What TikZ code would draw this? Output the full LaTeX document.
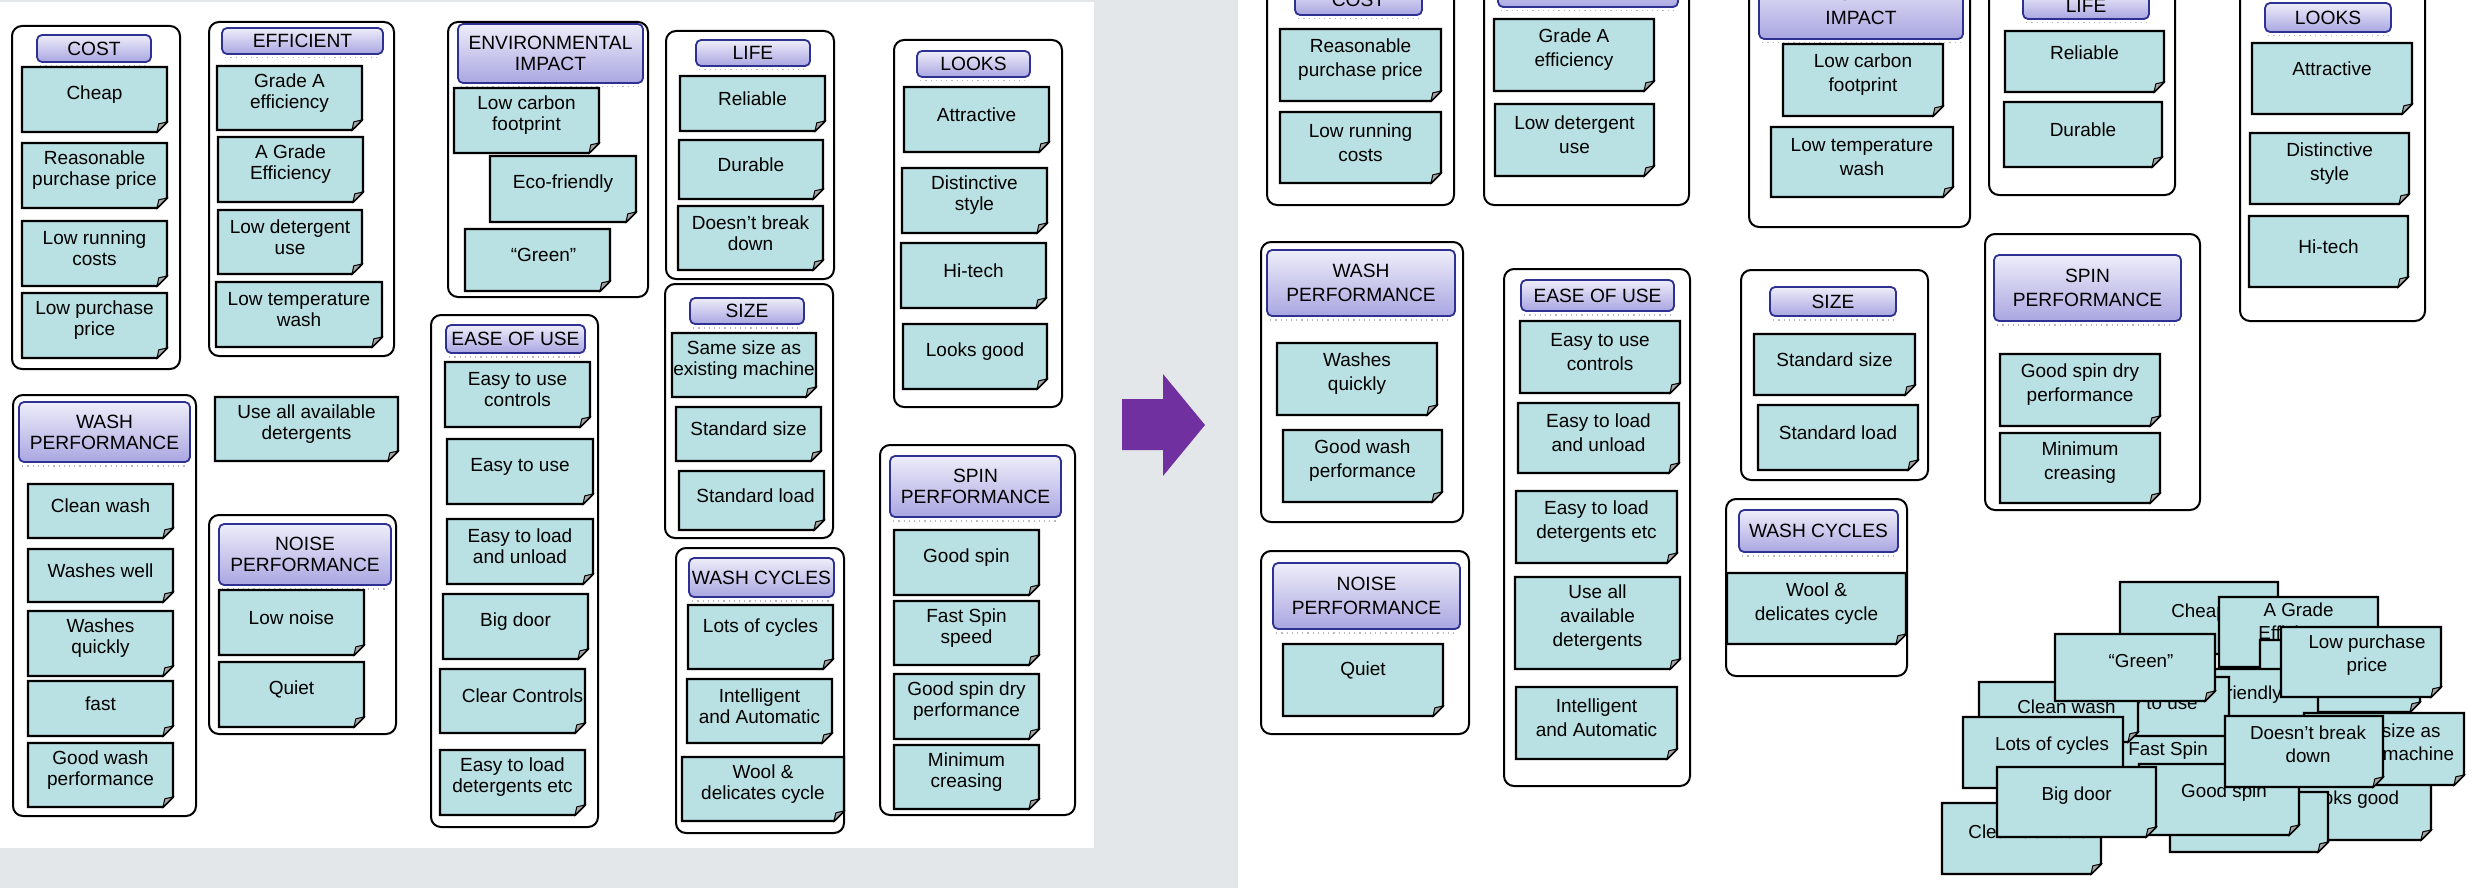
\documentclass[tikz,border=0pt]{standalone}
\usepackage{fontspec}
\setmainfont{Liberation Sans}
\usetikzlibrary{calc}

\definecolor{pagegray}{HTML}{E3E7EA}
\definecolor{notefill}{HTML}{B9E0E2}
\definecolor{foldgray}{HTML}{A6A6A6}
\definecolor{hdrtop}{HTML}{EEEDF9}
\definecolor{hdrbot}{HTML}{A9A6E1}
\definecolor{hdrline}{HTML}{2E3192}
\definecolor{arrowpurple}{HTML}{7030A0}

\tikzset{
  notebox/.style={rectangle, draw=none, inner sep=0pt, outer sep=0pt},
  noteline/.style={draw=black, line width=1.1pt, fill=notefill, line join=miter},
  dogear/.style={draw=black, line width=0.5pt, fill=foldgray},
  notetext/.style={align=center, inner sep=0pt, outer sep=0pt, text=black, font=\notefont, yshift=\notelift},
  groupbox/.style={rectangle, draw=black, line width=1pt, fill=white, rounded corners=5pt, inner sep=0pt},
  hdrbox/.style={rectangle, draw=hdrline, line width=0.9pt, rounded corners=2.5pt,
    top color=hdrtop, bottom color=hdrbot, inner sep=0pt, align=center, font=\hdrfont, text=black},
  hdrdots/.style={draw=gray!55, line width=0.6pt, dotted},
}

% sticky note: [text options]{name}{x1}{y1}{x2}{y2}{text}
\newcommand\stickynote[7][]{%
  \pgfmathsetmacro\nw{(#5-#3)/2}%
  \pgfmathsetmacro\nh{(#6-#4)/2}%
  \node[notebox, minimum width=\nw pt, minimum height=\nh pt] (#2) at ({(#3+#5)/2},{(#4+#6)/2}) {};
  \draw[noteline] (#2.north west) -- (#2.north east) -- ([yshift=5pt]#2.south east)
    -- ([xshift=-5pt]#2.south east) -- (#2.south west) -- cycle;
  \filldraw[dogear] ([yshift=5pt]#2.south east) -- ([xshift=-5pt]#2.south east)
    -- ([xshift=-4.1pt,yshift=4.1pt]#2.south east) -- cycle;
  \node[notetext,#1] (#2-t) at (#2.center) {#7};
}
% rounded frame of a category: {name}{x1}{y1}{x2}{y2}
\newcommand\groupframe[5]{%
  \pgfmathsetmacro\nw{(#4-#2)/2}%
  \pgfmathsetmacro\nh{(#5-#3)/2}%
  \node[groupbox, minimum width=\nw pt, minimum height=\nh pt] (#1) at ({(#2+#4)/2},{(#3+#5)/2}) {};
}
% category title: {name}{x1}{y1}{x2}{y2}{text}
\newcommand\cattitle[6]{%
  \pgfmathsetmacro\nw{(#4-#2)/2}%
  \pgfmathsetmacro\nh{(#5-#3)/2}%
  \node[hdrbox, minimum width=\nw pt, minimum height=\nh pt] (#1) at ({(#2+#4)/2},{(#3+#5)/2}) {#6};
  \draw[hdrdots] ([xshift=2pt,yshift=-1.5pt]#1.south west) -- ([xshift=-2pt,yshift=-1.5pt]#1.south east);
}

\begin{document}
\begin{tikzpicture}[x=0.5pt, y=-0.5pt]
\useasboundingbox (0,0) rectangle (2476,888);
\fill[pagegray] (0,0) rectangle (2476,888);
\fill[white] (0,2) rectangle (1094,848);
\fill[white] (1238,0) rectangle (2476,888);

% arrow between the two boards
\fill[arrowpurple] (1122,399) -- (1163,399) -- (1163,374) -- (1205,425)
  -- (1163,476) -- (1163,450) -- (1122,450) -- cycle;

% ---------------- first board ----------------
\def\notefont{\fontsize{9.5}{10.5}\selectfont}
\def\hdrfont{\fontsize{9.6}{10.5}\selectfont}
\def\notelift{2.5pt}

\groupframe{g-cost}{12}{26}{180}{369}
\groupframe{g-eff}{209}{22}{394}{356}
\groupframe{g-env}{448}{22}{648}{297}
\groupframe{g-ease}{431}{315}{598}{827}
\groupframe{g-life}{666}{31}{834}{279}
\groupframe{g-size}{665}{284}{833}{538}
\groupframe{g-cyc}{676}{548}{844}{833}
\groupframe{g-looks}{894}{40}{1062}{407}
\groupframe{g-spin}{880}{445}{1075}{815}
\groupframe{g-wash}{13}{395}{196}{816}
\groupframe{g-noise}{209}{515}{396}{734}

\cattitle{h-cost}{37}{35}{151}{62}{COST}
\cattitle{h-eff}{222}{28}{383}{54}{EFFICIENT}
\cattitle{h-env}{458}{24}{643}{83}{ENVIRONMENTAL\\IMPACT}
\cattitle{h-ease}{446}{325}{585}{353}{EASE OF USE}
\cattitle{h-life}{696}{40}{810}{66}{LIFE}
\cattitle{h-size}{690}{298}{804}{324}{SIZE}
\cattitle{h-cyc}{689}{558}{834}{597}{WASH CYCLES}
\cattitle{h-looks}{917}{51}{1030}{77}{LOOKS}
\cattitle{h-spin}{890}{456}{1061}{517}{SPIN\\PERFORMANCE}
\cattitle{h-wash}{19}{402}{190}{462}{WASH\\PERFORMANCE}
\cattitle{h-noise}{219}{524}{391}{585}{NOISE\\PERFORMANCE}

\stickynote{cheap}{22}{67}{167}{132}{Cheap}
\stickynote{reas}{22}{143}{167}{208}{Reasonable\\purchase price}
\stickynote{lowrun}{22}{221}{167}{286}{Low running\\costs}
\stickynote{lowpur}{22}{293}{167}{358}{Low purchase\\price}
\stickynote{gradea}{217}{66}{362}{130}{Grade A\\efficiency}
\stickynote{agrade}{218}{137}{363}{202}{A Grade\\Efficiency}
\stickynote{lowdet}{218}{210}{362}{274}{Low detergent\\use}
\stickynote{lowtemp}{216}{282}{382}{347}{Low temperature\\wash}
\stickynote{lowcarb}{454}{88}{599}{153}{Low carbon\\footprint}
\stickynote{eco}{490}{156}{636}{222}{Eco-friendly}
\stickynote[xshift=3pt]{green}{465}{229}{610}{291}{“Green”}
\stickynote{eou1}{445}{362}{590}{427}{Easy to use\\controls}
\stickynote{eou2}{447}{439}{593}{504}{Easy to use}
\stickynote{eou3}{447}{519}{593}{584}{Easy to load\\and unload}
\stickynote{bigdoor}{443}{594}{588}{659}{Big door}
\stickynote[xshift=5pt]{clear}{440}{669}{585}{733}{Clear Controls}
\stickynote{eou4}{440}{750}{585}{815}{Easy to load\\detergents etc}
\stickynote{reliable}{680}{76}{825}{131}{Reliable}
\stickynote{durable}{679}{140}{823}{199}{Durable}
\stickynote{dbd}{678}{206}{823}{270}{Doesn’t break\\down}
\stickynote{samesize}{672}{333}{816}{397}{Same size as\\existing machine}
\stickynote{stdsize}{676}{407}{821}{461}{Standard size}
\stickynote[xshift=2pt]{stdload}{679}{471}{824}{530}{Standard load}
\stickynote[yshift=2pt]{lots}{688}{605}{833}{669}{Lots of cycles}
\stickynote{intel}{687}{679}{832}{743}{Intelligent\\and Automatic}
\stickynote{wool}{682}{757}{844}{821}{Wool \&\\delicates cycle}
\stickynote{attr}{904}{87}{1049}{152}{Attractive}
\stickynote{dist}{902}{168}{1047}{233}{Distinctive\\style}
\stickynote{hitech}{901}{243}{1046}{308}{Hi-tech}
\stickynote{looksgood}{903}{324}{1047}{389}{Looks good}
\stickynote{goodspin}{894}{530}{1039}{595}{Good spin}
\stickynote{fastspin}{894}{601}{1039}{665}{Fast Spin\\speed}
\stickynote{gsdry}{894}{674}{1039}{739}{Good spin dry\\performance}
\stickynote{mincrease}{894}{745}{1039}{809}{Minimum\\creasing}
\stickynote{cleanwash}{28}{484}{173}{538}{Clean wash}
\stickynote{washwell}{28}{549}{173}{602}{Washes well}
\stickynote{washquick}{28}{611}{173}{676}{Washes\\quickly}
\stickynote{fast}{28}{681}{173}{736}{fast}
\stickynote{goodwash}{28}{743}{173}{807}{Good wash\\performance}
\stickynote{useall}{215}{397}{398}{461}{Use all available\\detergents}
\stickynote{lownoise}{219}{590}{364}{655}{Low noise}
\stickynote{quiet}{219}{662}{364}{727}{Quiet}

% ---------------- second board ----------------
\begin{scope}
\clip (1238,0) rectangle (2476,888);
\def\notefont{\fontsize{9.5}{12}\selectfont}
\def\hdrfont{\fontsize{9.6}{12}\selectfont}
\def\notelift{2.5pt}

\groupframe{rg-cost}{1267}{-30}{1454}{205}
\groupframe{rg-eff}{1484}{-30}{1689}{205}
\groupframe{rg-env}{1749}{-40}{1970}{227}
\groupframe{rg-life}{1989}{-30}{2175}{195}
\groupframe{rg-looks}{2240}{-20}{2425}{321}
\groupframe{rg-wash}{1261}{242}{1463}{522}
\groupframe{rg-ease}{1504}{269}{1690}{786}
\groupframe{rg-size}{1741}{270}{1928}{480}
\groupframe{rg-spin}{1985}{234}{2200}{510}
\groupframe{rg-cyc}{1726}{499}{1907}{676}
\groupframe{rg-noise}{1261}{551}{1469}{734}

\cattitle{rh-cost}{1295}{-15}{1422}{15}{COST}
\cattitle{rh-eff}{1498}{-26}{1678}{7}{}
\cattitle{rh-env}{1759}{-27}{1963}{39}{ENVIRONMENTAL\\IMPACT}
\cattitle{rh-life}{2023}{-8}{2149}{19}{LIFE}
\cattitle{rh-looks}{2265}{3}{2391}{32}{LOOKS}
\cattitle{rh-wash}{1267}{250}{1455}{316}{WASH\\PERFORMANCE}
\cattitle{rh-ease}{1521}{280}{1674}{311}{EASE OF USE}
\cattitle{rh-size}{1770}{287}{1896}{316}{SIZE}
\cattitle{rh-spin}{1994}{255}{2181}{321}{SPIN\\PERFORMANCE}
\cattitle{rh-cyc}{1739}{510}{1898}{552}{WASH CYCLES}
\cattitle{rh-noise}{1273}{563}{1460}{629}{NOISE\\PERFORMANCE}

\stickynote{r-reas}{1280}{29}{1441}{101}{Reasonable\\purchase price}
\stickynote{r-lowrun}{1280}{112}{1441}{183}{Low running\\costs}
\stickynote{r-gradea}{1494}{19}{1654}{91}{Grade A\\efficiency}
\stickynote{r-lowdet}{1495}{104}{1654}{176}{Low detergent\\use}
\stickynote{r-lowcarb}{1783}{44}{1943}{116}{Low carbon\\footprint}
\stickynote{r-lowtemp}{1771}{127}{1953}{197}{Low temperature\\wash}
\stickynote[yshift=2pt]{r-reliable}{2005}{31}{2164}{92}{Reliable}
\stickynote{r-durable}{2004}{102}{2162}{167}{Durable}
\stickynote[yshift=2.5pt]{r-attr}{2252}{43}{2412}{114}{Attractive}
\stickynote{r-dist}{2250}{133}{2409}{204}{Distinctive\\style}
\stickynote{r-hitech}{2249}{216}{2408}{287}{Hi-tech}
\stickynote{r-gsdry}{2000}{354}{2160}{426}{Good spin dry\\performance}
\stickynote{r-mincrease}{2000}{433}{2160}{503}{Minimum\\creasing}
\stickynote{r-washquick}{1277}{343}{1437}{415}{Washes\\quickly}
\stickynote{r-goodwash}{1283}{430}{1442}{502}{Good wash\\performance}
\stickynote{r-eou1}{1520}{321}{1680}{393}{Easy to use\\controls}
\stickynote{r-eou3}{1518}{403}{1679}{473}{Easy to load\\and unload}
\stickynote{r-eou4}{1516}{491}{1677}{563}{Easy to load\\detergents etc}
\stickynote{r-useall}{1515}{577}{1680}{669}{Use all\\available\\detergents}
\stickynote{r-intel}{1516}{687}{1677}{759}{Intelligent\\and Automatic}
\stickynote{r-stdsize}{1754}{334}{1915}{395}{Standard size}
\stickynote{r-stdload}{1758}{405}{1918}{470}{Standard load}
\stickynote{r-wool}{1727}{573}{1906}{644}{Wool \&\\delicates cycle}
\stickynote[yshift=2.5pt]{r-quiet}{1283}{644}{1443}{716}{Quiet}

% unsorted heap of notes, back to front
\def\notefont{\fontsize{9.4}{11.5}\selectfont}
\def\notelift{3.25pt}
\stickynote[xshift=3.5pt]{p-clear}{1942}{803}{2101}{874}{Clear Controls}
\stickynote[yshift=-0.5pt]{p-cheap}{2120}{582}{2278}{654}{Cheap}
\stickynote[yshift=1pt]{p-agrade}{2219}{597}{2378}{667}{A Grade\\Efficiency}
\stickynote{p-hid1}{2260}{640}{2420}{712}{}
\stickynote[xshift=-3pt,yshift=1.75pt]{p-eco}{2158}{669}{2318}{741}{Eco-friendly}
\stickynote[yshift=0.75pt]{p-easy}{2068}{677}{2229}{749}{Easy to use}
\stickynote[yshift=1.5pt]{p-fast}{2088}{736}{2248}{808}{Fast Spin\\speed}
\stickynote[xshift=4pt,yshift=-0.75pt]{p-cleanwash}{1979}{682}{2138}{742}{Clean wash}
\stickynote[xshift=3pt]{p-green}{2055}{634}{2215}{701}{“Green”}
\stickynote[xshift=4.5pt]{p-lots}{1963}{717}{2123}{788}{Lots of cycles}
\stickynote[yshift=-0.75pt]{p-looks}{2270}{770}{2431}{840}{Looks good}
\stickynote{p-hid2}{2170}{792}{2328}{852}{}
\stickynote[xshift=2.5pt]{p-goodspin}{2139}{764}{2299}{835}{Good spin}
\stickynote{p-bigdoor}{1997}{767}{2156}{837}{Big door}
\stickynote[yshift=-0.75pt]{p-same}{2304}{713}{2464}{785}{Same size as\\existing machine}
\stickynote[xshift=2pt,yshift=0.5pt]{p-dbd}{2225}{716}{2383}{787}{Doesn’t break\\down}
\stickynote[xshift=3pt]{p-lowpur}{2281}{627}{2441}{697}{Low purchase\\price}
\end{scope}
\end{tikzpicture}
\end{document}
